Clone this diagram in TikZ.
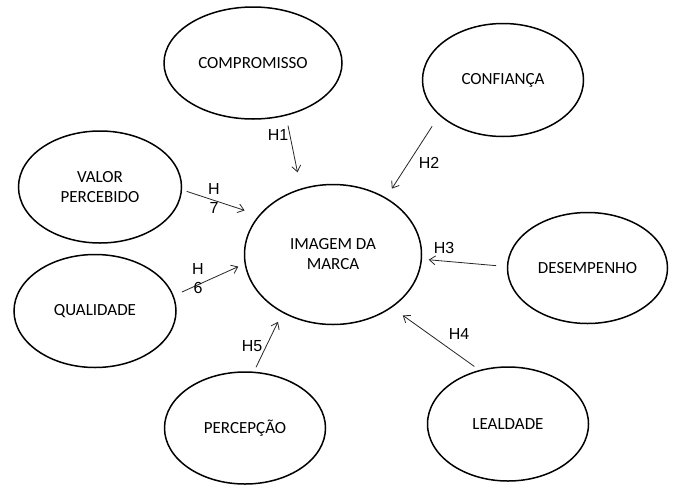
\documentclass[tikz,border=0pt]{standalone}
\usepackage{fontspec}
\setmainfont{Carlito}
\newfontfamily\arialfont{Liberation Sans}
\usetikzlibrary{shapes.geometric,arrows.meta}

\begin{document}
\begin{tikzpicture}[x=1pt, y=-1pt,
	construct/.style={draw, line width=1.5pt, ellipse, inner sep=0pt, align=center, font=\fontsize{17}{20}\selectfont},
	hyp/.style={-{Straight Barb[length=6pt, width=9pt]}, line width=0.8pt, draw=black!85},
	hlabel/.style={font=\arialfont\fontsize{16}{19}\selectfont, align=center, inner sep=0pt}]
	\useasboundingbox (0,0) rectangle (674,485);

	\node[construct, minimum width=177pt, minimum height=140pt] (imagem) at (333,254.5) {IMAGEM DA\\MARCA};
	\node[construct, minimum width=178pt, minimum height=112pt] (compromisso) at (253,63) {COMPROMISSO};
	\node[construct, minimum width=161pt, minimum height=113pt] (confianca) at (503,80) {CONFIANÇA};
	\node[construct, minimum width=163pt, minimum height=112pt] (valor) at (100,187) {VALOR\\PERCEBIDO};
	\node[construct, minimum width=162pt, minimum height=113pt] (qualidade) at (95,311) {QUALIDADE};
	\node[construct, minimum width=160pt, minimum height=111pt] (desempenho) at (587.5,268) {DESEMPENHO};
	\node[construct, minimum width=161pt, minimum height=112pt] (percepcao) at (245,428) {PERCEPÇÃO};
	\node[construct, minimum width=161pt, minimum height=114pt] (lealdade) at (508,424) {LEALDADE};

	\draw[hyp, shorten <=10pt, shorten >=16.5pt] (compromisso.-58) -- (imagem.116);
	\draw[hyp, shorten <=12.9pt, shorten >=10.7pt] (confianca.-151) -- (imagem.47);
	\draw[hyp, shorten <=10.6pt, shorten >=6.7pt] (desempenho.179) -- (imagem.-3);
	\draw[hyp, shorten <=6.1pt, shorten >=13.3pt] (lealdade.118) -- (imagem.-42);
	\draw[hyp, shorten <=4.8pt, shorten >=10.1pt] (percepcao.81) -- (imagem.-131);
	\draw[hyp, shorten <=8.9pt, shorten >=6.8pt] (qualidade.11) -- (imagem.-174);
	\draw[hyp, shorten <=4.8pt, shorten >=15pt] (valor.-2) -- (imagem.152);

	\node[hlabel] (h1) at (278,135) {H1};
	\node[hlabel] (h2) at (429,163) {H2};
	\node[hlabel] (h3) at (444,248) {H3};
	\node[hlabel] (h4) at (459,334) {H4};
	\node[hlabel] (h5) at (252,346) {H5};
	\node[hlabel] (h6) at (198,279) {H\\6};
	\node[hlabel] (h7) at (214,198) {H\\7};

\end{tikzpicture}
\end{document}
